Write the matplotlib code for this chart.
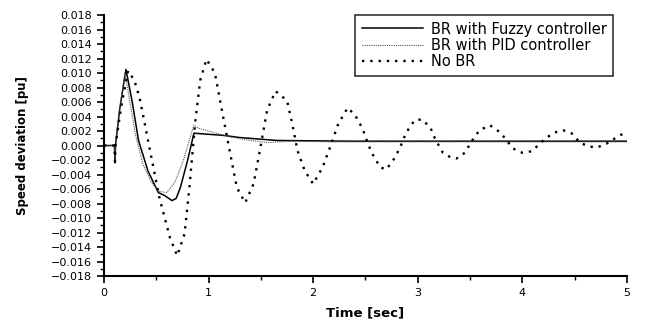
import matplotlib.pyplot as plt
from matplotlib.ticker import MultipleLocator, FuncFormatter

# BR with Fuzzy controller
t_fuzzy = [0.0, 0.10, 0.105, 0.11, 0.15, 0.21, 0.27, 0.33, 0.42, 0.52, 0.58, 0.65, 0.69, 0.73, 0.80, 0.86,
           1.14, 1.30, 1.65, 2.35, 3.0, 4.0, 5.0]
v_fuzzy = [0.0, 0.0, -0.0024, 0.0, 0.005, 0.0105, 0.006, 0.0007, -0.0035, -0.0065, -0.0069, -0.0076, -0.0073, -0.0058,
           -0.002, 0.0017, 0.0014, 0.0011, 0.0007, 0.0006, 0.0006, 0.0006, 0.0006]

# BR with PID controller
t_pid = [0.0, 0.10, 0.105, 0.11, 0.15, 0.20, 0.26, 0.30, 0.37, 0.45, 0.52, 0.60, 0.68, 0.76, 0.82, 0.86, 0.90,
         1.00, 1.20, 1.40, 1.56, 1.80, 2.2, 3.0, 4.0, 5.0]
v_pid = [0.0, 0.0, -0.002, 0.0, 0.005, 0.0100, 0.005, 0.0015, -0.0025, -0.0050, -0.0063, -0.0065, -0.0050, -0.002,
         0.0010, 0.0028, 0.0024, 0.0020, 0.0012, 0.0007, 0.0004, 0.0006, 0.0005, 0.0005, 0.0005, 0.0005]

# No BR
t_nobr = [0.0, 0.10, 0.105, 0.11, 0.16, 0.23, 0.29, 0.34, 0.39, 0.44, 0.53, 0.63, 0.70, 0.77, 0.82, 0.87, 0.92,
          0.98, 1.06, 1.14, 1.22, 1.27, 1.35, 1.43, 1.49, 1.56, 1.64, 1.75, 1.80, 1.85, 1.92, 2.00, 2.09, 2.16,
          2.24, 2.33, 2.40, 2.47, 2.52, 2.56, 2.64, 2.70, 2.78, 2.83, 2.89, 2.97, 3.04, 3.12, 3.16, 3.19, 3.24,
          3.31, 3.37, 3.45, 3.52, 3.59, 3.69, 3.79, 3.85, 3.91, 4.00, 4.09, 4.17, 4.23, 4.33, 4.39, 4.47, 4.55,
          4.63, 4.71, 4.81, 4.93, 4.98]
v_nobr = [0.0, 0.0, -0.0022, 0.0, 0.005, 0.0103, 0.0090, 0.0066, 0.003, -0.0007, -0.0072, -0.0127, -0.0152, -0.0122,
          -0.0053, 0.0030, 0.0090, 0.0119, 0.0100, 0.0039, -0.0021, -0.0058, -0.0079, -0.0053, -0.0007, 0.0049,
          0.0075, 0.0062, 0.0030, -0.0007, -0.0035, -0.0053, -0.0030, -0.0003, 0.0030, 0.0052, 0.0042, 0.0024,
          0.0004, -0.0010, -0.0030, -0.0033, -0.0017, -0.0003, 0.0018, 0.0035, 0.0036, 0.0025, 0.0011, 0.0003,
          -0.0010, -0.0016, -0.0018, -0.0010, 0.0007, 0.0021, 0.0028, 0.0018, 0.0007, -0.0004, -0.0010, -0.0008,
          0.0003, 0.0011, 0.0019, 0.0021, 0.0017, 0.0004, -0.0001, -0.0003, 0.0003, 0.0014, 0.0017]

fig = plt.figure(figsize=(6.48, 3.2), dpi=100)
ax = fig.add_axes([0.1605, 0.1375, 0.807, 0.8155])

ax.plot(t_fuzzy, v_fuzzy, color='black', lw=1.1, label='BR with Fuzzy controller')
ax.plot(t_pid, v_pid, color='#555555', lw=0.8, linestyle=(0, (1, 1)), label='BR with PID controller')
ax.plot(t_nobr, v_nobr, color='black', lw=1.7, linestyle=(0, (1, 2.5)), label='No BR')

ax.set_xlim(0, 5)
ax.set_ylim(-0.018, 0.018)
ax.xaxis.set_major_locator(MultipleLocator(1))
ax.xaxis.set_minor_locator(MultipleLocator(0.5))
ax.yaxis.set_major_locator(MultipleLocator(0.002))
ax.yaxis.set_minor_locator(MultipleLocator(0.001))
ax.yaxis.set_major_formatter(FuncFormatter(lambda v, p: ('%.3f' % v).replace('-', '\u2212') if abs(v) > 1e-9 else '0.000'))

ax.spines['top'].set_visible(False)
ax.spines['right'].set_visible(False)
ax.spines['left'].set_linewidth(1.5)
ax.spines['bottom'].set_linewidth(1.5)
ax.tick_params(which='major', length=5, width=1.2, labelsize=8)
ax.tick_params(which='minor', length=3, width=1)

ax.set_xlabel('Time [sec]', fontsize=9.5, fontweight='bold', labelpad=6)
ax.set_ylabel('Speed deviation [pu]', fontsize=8.5, fontweight='bold', labelpad=16)

# legend box in the reference spans roughly x 284-613, y 15-78 px
leg = ax.legend(loc='upper right', bbox_to_anchor=(613 / 648, 1 - 15 / 320), bbox_transform=fig.transFigure,
                fontsize=10.5, frameon=True, fancybox=False, edgecolor='black', handlelength=4.2,
                handletextpad=0.5, borderpad=0.45, labelspacing=0.1, borderaxespad=0)
leg.get_frame().set_linewidth(1.2)

plt.savefig('out.png', dpi=100)
